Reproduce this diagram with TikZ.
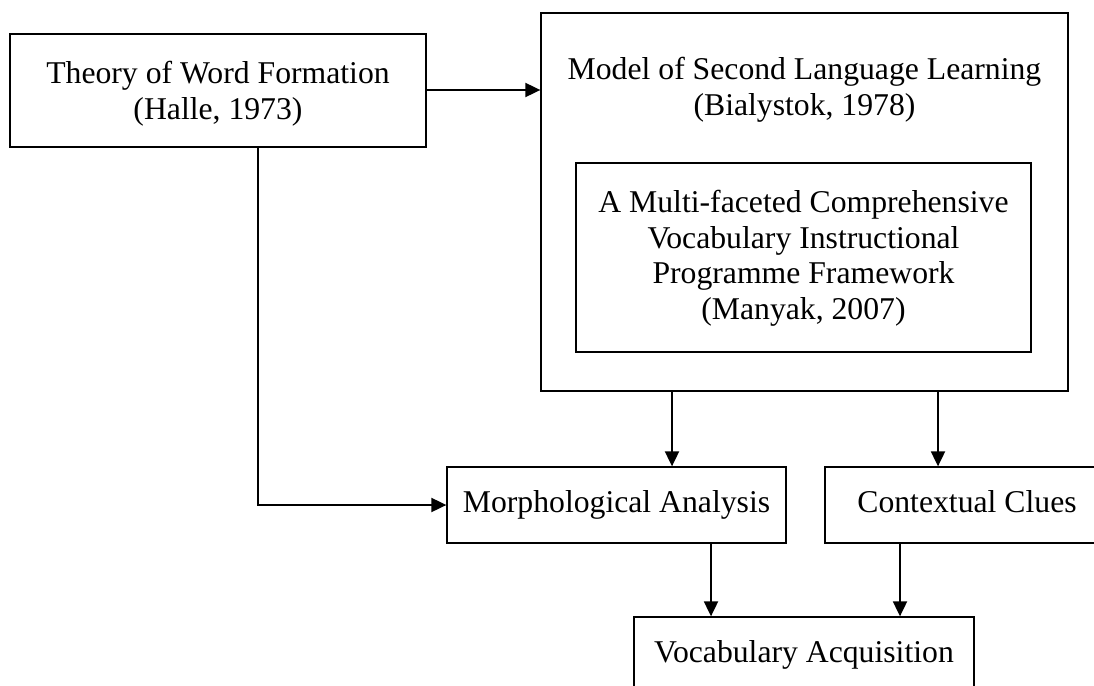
\documentclass[tikz,border=0pt]{standalone}
\usepackage{fontspec}
\setmainfont{Liberation Serif}
\usetikzlibrary{arrows.meta}
\tikzset{
  txt/.style={font=\fontsize{31.7pt}{35.5pt}\selectfont, align=center, inner sep=0pt},
  box/.style={draw=black, line width=1.3pt, inner sep=0pt, rectangle},
  one/.style={box, font=\fontsize{31.7pt}{36pt}\selectfont, text height=22pt, text depth=7pt},
  arr/.style={line width=1.9pt, -{Triangle[length=15pt,width=14pt]}}
}
\begin{document}
\begin{tikzpicture}[x=1pt,y=-1pt]
\useasboundingbox (0,0) rectangle (1094,685);
% boxes
\node[box, minimum width=416pt, minimum height=113pt] (A) at (218,90.5) {};
\node[txt] (atext) at (218,93.5) {Theory of Word Formation\\(Halle, 1973)};
\node[box, minimum width=527pt, minimum height=378pt] (B) at (804.5,202) {};
\node[txt] (btext) at (804.5,90) {Model of Second Language Learning\\(Bialystok, 1978)};
\node[box, minimum width=455pt, minimum height=189pt] (C) at (803.5,257.5) {};
\node[txt] (ctext) at (803.5,258.5) {A Multi-faceted Comprehensive\\Vocabulary Instructional\\Programme Framework\\(Manyak, 2007)};
\node[one, minimum width=339pt, minimum height=76pt] (M) at (616.5,505) {Morphological Analysis};
\node[one, minimum width=284pt, minimum height=76pt] (K) at (967,505) {Contextual Clues};
\node[one, minimum width=340pt, minimum height=76pt] (V) at (804,655) {Vocabulary Acquisition};
% connector x positions
\coordinate (xa) at (258,0);
\coordinate (xm) at (672,0);
\coordinate (xk) at (938,0);
\coordinate (xv1) at (711,0);
\coordinate (xv2) at (900,0);
\coordinate (ya) at (0,90);
% connectors
\draw[arr] (A.east |- ya) -- (B.west |- ya);
\draw[arr] (A.south -| xa) |- (M.west);
\draw[arr] (B.south -| xm) -- (M.north -| xm);
\draw[arr] (B.south -| xk) -- (K.north -| xk);
\draw[arr] (M.south -| xv1) -- (V.north -| xv1);
\draw[arr] (K.south -| xv2) -- (V.north -| xv2);
\end{tikzpicture}
\end{document}
